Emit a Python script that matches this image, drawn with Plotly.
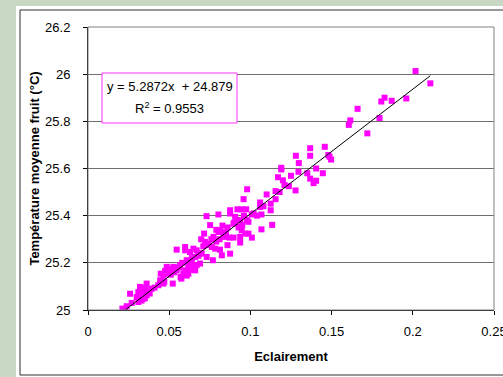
import plotly.graph_objects as go

# ---- data ----
eclairement = [
    0.2017, 0.2108, 0.1960, 0.1870, 0.1826, 0.1806, 0.1795, 0.1720, 0.1660, 0.1615,
    0.1606, 0.1458, 0.1368, 0.1368, 0.1280, 0.1298, 0.1487, 0.1497, 0.1480, 0.1405,
    0.1446, 0.1389, 0.1405, 0.1368, 0.1350, 0.1190, 0.1170, 0.1190, 0.1200, 0.1250,
    0.1237, 0.1278, 0.1296, 0.1210, 0.1155, 0.1155, 0.1100, 0.1125, 0.1125, 0.1060,
    0.1060, 0.1068, 0.1068, 0.1134, 0.0980, 0.0958, 0.0974, 0.0947, 0.0920, 0.1009,
    0.1020, 0.0875, 0.0875, 0.0906, 0.0916, 0.0937, 0.0978, 0.0988, 0.0896, 0.0927,
    0.0947, 0.0968, 0.0988, 0.1009, 0.0937, 0.0937, 0.0896, 0.0871, 0.0844, 0.0875,
    0.0859, 0.0803, 0.0730, 0.0828, 0.0813, 0.0803, 0.0834, 0.0773, 0.0752, 0.0715,
    0.0697, 0.0721, 0.0742, 0.0763, 0.0783, 0.0813, 0.0824, 0.0769, 0.0731, 0.0690,
    0.0669, 0.0649, 0.0628, 0.0598, 0.0598, 0.0546, 0.0660, 0.0690, 0.0669, 0.0639,
    0.0608, 0.0649, 0.0660, 0.0618, 0.0598, 0.0618, 0.0587, 0.0608, 0.0575, 0.0567,
    0.0546, 0.0526, 0.0505, 0.0485, 0.0475, 0.0495, 0.0522, 0.0464, 0.0448, 0.0444,
    0.0464, 0.0433, 0.0361, 0.0355, 0.0341, 0.0320, 0.0310, 0.0331, 0.0361, 0.0341,
    0.0310, 0.0300, 0.0259, 0.0269, 0.0238, 0.0212, 0.0228, 0.0372, 0.0392, 0.0410,
    0.0540, 0.0560, 0.0580, 0.0620, 0.0640, 0.0700, 0.0710, 0.0760, 0.0790, 0.0850,
    0.0900, 0.0930, 0.0960, 0.0790, 0.0740, 0.0680, 0.0530, 0.0510, 0.0470, 0.0380,
    0.0350, 0.0330, 0.0570, 0.0630, 0.0810, 0.0860, 0.0950, 0.1040, 0.1080, 0.1180,
]
temperature = [
    26.013, 25.961, 25.897, 25.887, 25.900, 25.884, 25.814, 25.749, 25.853, 25.804,
    25.785, 25.692, 25.686, 25.654, 25.654, 25.623, 25.650, 25.638, 25.657, 25.600,
    25.580, 25.538, 25.548, 25.557, 25.580, 25.603, 25.563, 25.596, 25.550, 25.569,
    25.525, 25.507, 25.586, 25.530, 25.504, 25.470, 25.490, 25.451, 25.423, 25.456,
    25.437, 25.405, 25.342, 25.361, 25.512, 25.470, 25.427, 25.427, 25.427, 25.405,
    25.410, 25.423, 25.409, 25.395, 25.381, 25.381, 25.381, 25.374, 25.366, 25.352,
    25.338, 25.324, 25.324, 25.307, 25.310, 25.286, 25.307, 25.307, 25.310, 25.239,
    25.275, 25.405, 25.398, 25.358, 25.338, 25.331, 25.324, 25.310, 25.360, 25.324,
    25.300, 25.289, 25.275, 25.267, 25.260, 25.256, 25.232, 25.211, 25.225, 25.239,
    25.253, 25.260, 25.246, 25.267, 25.253, 25.256, 25.225, 25.197, 25.190, 25.204,
    25.211, 25.183, 25.168, 25.183, 25.168, 25.154, 25.154, 25.146, 25.133, 25.190,
    25.168, 25.183, 25.175, 25.183, 25.166, 25.154, 25.112, 25.140, 25.154, 25.126,
    25.112, 25.105, 25.112, 25.095, 25.083, 25.098, 25.076, 25.062, 25.062, 25.048,
    25.034, 25.055, 25.069, 25.030, 25.016, 25.006, 25.001, 25.076, 25.090, 25.095,
    25.170, 25.180, 25.200, 25.190, 25.220, 25.240, 25.270, 25.300, 25.290, 25.330,
    25.370, 25.350, 25.400, 25.340, 25.280, 25.230, 25.160, 25.150, 25.120, 25.070,
    25.050, 25.040, 25.140, 25.170, 25.300, 25.350, 25.360, 25.400, 25.440, 25.500,
]

slope = 5.2872
intercept = 24.879
r_squared = 0.9553

x_tick_vals = [0, 0.05, 0.1, 0.15, 0.2, 0.25]
x_tick_text = ["0", "0.05", "0.1", "0.15", "0.2", "0.25"]
y_tick_vals = [25, 25.2, 25.4, 25.6, 25.8, 26, 26.2]
y_tick_text = ["25", "25.2", "25.4", "25.6", "25.8", "26", "26.2"]

# trend line endpoints from the data range and fit coefficients
x0 = max(min(eclairement), (25 - intercept) / slope)
x1 = max(eclairement)
line_x = [x0, x1]
line_y = [slope * v + intercept for v in line_x]

font_family = "Liberation Sans, Arial, sans-serif"
bg_green = "#C8D8C4"

fig = go.Figure()
fig.add_trace(go.Scatter(
    x=eclairement, y=temperature, mode="markers",
    marker=dict(symbol="square", size=6, color="#FF00FF", line=dict(width=0)),
    showlegend=False, hoverinfo="skip",
))
fig.add_trace(go.Scatter(
    x=line_x, y=line_y, mode="lines",
    line=dict(color="black", width=1),
    showlegend=False, hoverinfo="skip",
))

W, H = 503, 377
L, R, T, B = 88, 9, 27, 67
pw = W - L - R
ph = H - T - B

def px_x(p):
    return (p - L) / pw

def px_y(p):
    return (H - B - p) / ph

shapes = [
    # white panel with dark border
    dict(type="rect", xref="paper", yref="paper",
         x0=px_x(16), x1=px_x(503), y0=px_y(377), y1=px_y(6),
         fillcolor="white", line=dict(width=0), layer="below"),
    dict(type="rect", xref="paper", yref="paper",
         x0=px_x(20), x1=px_x(510), y0=px_y(375), y1=px_y(10),
         fillcolor="white", line=dict(color="#303030", width=1), layer="below"),
    # plot area border (gray)
    dict(type="rect", xref="paper", yref="paper", x0=0, x1=1, y0=0, y1=1,
         line=dict(color="#808080", width=1), layer="above"),
    # equation box
    dict(type="rect", xref="paper", yref="paper",
         x0=px_x(102), x1=px_x(237), y0=px_y(123), y1=px_y(73),
         fillcolor="white", line=dict(color="#FF33FF", width=1), layer="above"),
]

annotations = [
    dict(xref="paper", yref="paper", x=px_x(169.5), y=px_y(86),
         text=f"y = {slope}x  + {intercept}", showarrow=False,
         font=dict(family=font_family, size=13, color="black"),
         xanchor="center", yanchor="middle"),
    dict(xref="paper", yref="paper", x=px_x(169.5), y=px_y(108),
         text=f"R<sup>2</sup> = {r_squared}", showarrow=False,
         font=dict(family=font_family, size=13, color="black"),
         xanchor="center", yanchor="middle"),
]

fig.update_layout(
    template="none",
    width=W, height=H, autosize=False,
    margin=dict(l=L, r=R, t=T, b=B, pad=0, autoexpand=False),
    paper_bgcolor=bg_green,
    plot_bgcolor="white",
    font=dict(family=font_family, size=13, color="black"),
    shapes=shapes,
    annotations=annotations,
    xaxis=dict(
        range=[0, 0.2500001], tickvals=x_tick_vals, ticktext=x_tick_text,
        showgrid=False, zeroline=False, automargin=False,
        showline=True, linecolor="black", linewidth=1,
        ticks="outside", ticklen=4, tickcolor="black", tickwidth=1,
        ticklabelstandoff=5, ticklabeloverflow="allow",
        title=dict(text="<b>Eclairement</b>", standoff=14,
                   font=dict(family=font_family, size=13)),
    ),
    yaxis=dict(
        range=[25, 26.2], tickvals=y_tick_vals, ticktext=y_tick_text,
        showgrid=True, gridcolor="#707070", gridwidth=1, zeroline=False,
        automargin=False,
        showline=True, linecolor="black", linewidth=1,
        ticks="outside", ticklen=4, tickcolor="black", tickwidth=1,
        ticklabelstandoff=10,
        title=dict(text="<b>Température moyenne fruit (°C)</b>", standoff=2,
                   font=dict(family=font_family, size=13)),
    ),
)

fig.write_html(
    "out.html",
    config=dict(displayModeBar=False, responsive=False),
    post_script="document.documentElement.style.overflow='hidden';"
                "document.body.style.overflow='hidden';"
                "document.body.style.margin='0px';"
                "document.body.style.background='" + bg_green + "';",
)
